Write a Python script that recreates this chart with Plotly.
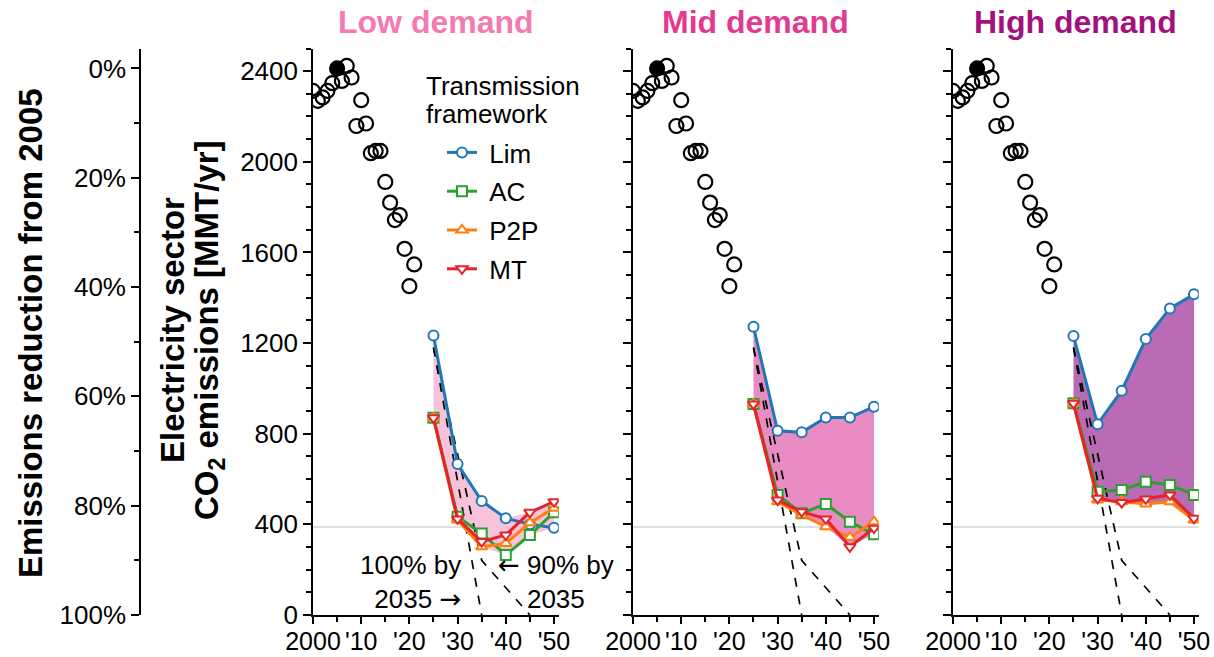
import plotly.graph_objects as go

# ---------------- data ----------------
hist_years = list(range(2000, 2022))
hist_co2 = [2313, 2269, 2284, 2313, 2347, 2412, 2357, 2423, 2372, 2158, 2272,
            2169, 2038, 2048, 2048, 1911, 1820, 1743, 1765, 1616, 1451, 1547]
base_year = 2005

scen_years = [2025, 2030, 2035, 2040, 2045, 2050]

low_lim = [1233, 666, 503, 427, 400, 385]
low_ac = [870, 434, 360, 265, 353, 453]
low_p2p = [870, 419, 301, 316, 407, 471]
low_mt = [870, 424, 324, 353, 453, 500]

mid_lim = [1272, 813, 806, 872, 872, 919]
mid_ac = [931, 530, 449, 490, 412, 356]
mid_p2p = [931, 500, 441, 390, 343, 412]
mid_mt = [931, 507, 456, 424, 301, 383]

high_lim = [1231, 842, 990, 1218, 1353, 1415]
high_ac = [934, 544, 552, 588, 574, 530]
high_p2p = [934, 508, 500, 490, 500, 419]
high_mt = [934, 515, 496, 512, 530, 427]

# reference decarbonisation pathways
path100_years = [2025, 2035]
path100_co2 = [1180, 0]
path90_years = [2025, 2035, 2045]
path90_co2 = [1180, 241, 0]

target_co2 = 388

panel_names = ["Low demand", "Mid demand", "High demand"]
frameworks = ["Lim", "AC", "P2P", "MT"]
x_tickvals = [2000, 2010, 2020, 2030, 2040, 2050]
x_ticktext = ["2000", "'10", "'20", "'30", "'40", "'50"]
y_tickvals = [0, 400, 800, 1200, 1600, 2000, 2400]
pct_tickvals = [0, 20, 40, 60, 80, 100]
pct_ticktext = ["0%", "20%", "40%", "60%", "80%", "100%"]

# ---------------- styling ----------------
FONT = "Liberation Sans, Arial, sans-serif"
ARROW_FONT = "DejaVu Sans"
W, H = 1214, 657
TICK_SIZE = 26
LABEL_SIZE = 33
title_colors = ["#f47aaf", "#e23a8f", "#a3117d"]
fill_colors = ["#f7c3da", "#ea8cc4", "#b96bb5"]
fw_colors = {"Lim": "#1f77b4", "AC": "#2ca02c", "P2P": "#ff7f0e", "MT": "#e3242b"}
fw_symbols = {"Lim": "circle", "AC": "square", "P2P": "triangle-up", "MT": "triangle-down"}

panels = [
    {"Lim": low_lim, "AC": low_ac, "P2P": low_p2p, "MT": low_mt},
    {"Lim": mid_lim, "AC": mid_ac, "P2P": mid_p2p, "MT": mid_mt},
    {"Lim": high_lim, "AC": high_ac, "P2P": high_p2p, "MT": high_mt},
]

x_left_px = [313, 633, 953]
panel_w_px = 245.8
y_bottom_px, y_top_px = 615, 48.5
y_domain = [1 - y_bottom_px / H, 1 - y_top_px / H]
x_range = [2000, 2051]
y_range = [0, 2500]

fig = go.Figure()

for i, data in enumerate(panels):
    xa = "x" if i == 0 else f"x{i + 1}"
    ya = "y" if i == 0 else f"y{i + 1}"

    # envelope of the four transmission frameworks
    upper = [max(vals) for vals in zip(*data.values())]
    lower = [min(vals) for vals in zip(*data.values())]
    fig.add_trace(go.Scatter(
        x=scen_years + scen_years[::-1], y=upper + lower[::-1],
        fill="toself", fillcolor=fill_colors[i], mode="none",
        hoverinfo="skip", showlegend=False, xaxis=xa, yaxis=ya))

    # pathways
    for px_, py_ in [(path100_years, path100_co2), (path90_years, path90_co2)]:
        fig.add_trace(go.Scatter(
            x=px_, y=py_, mode="lines",
            line=dict(color="black", width=1.7, dash="dash"),
            hoverinfo="skip", showlegend=False, xaxis=xa, yaxis=ya))

    # historical emissions
    symbols = ["circle" if yr == base_year else "circle-open" for yr in hist_years]
    fig.add_trace(go.Scatter(
        x=hist_years, y=hist_co2, mode="markers",
        marker=dict(symbol=symbols, size=14, color="black",
                    line=dict(color="black", width=2.2)),
        showlegend=False, xaxis=xa, yaxis=ya))

    # scenario results
    for fw in frameworks:
        fig.add_trace(go.Scatter(
            x=scen_years, y=data[fw], mode="lines+markers", name="\u00a0" + fw,
            legendgroup=fw, showlegend=(i == 0),
            line=dict(color=fw_colors[fw], width=3),
            marker=dict(symbol=fw_symbols[fw], size=10, color="white",
                        line=dict(color=fw_colors[fw], width=2)),
            xaxis=xa, yaxis=ya))

    axis_common = dict(showline=True, linecolor="black", linewidth=1.6,
                       ticks="outside", tickcolor="black", tickwidth=1.6,
                       showgrid=False, zeroline=False, fixedrange=True,
                       automargin=False,
                       tickfont=dict(family=FONT, size=TICK_SIZE, color="black"))
    x0 = x_left_px[i] / W
    fig.update_layout({
        f"xaxis{'' if i == 0 else i + 1}": dict(
            axis_common, domain=[x0, x0 + panel_w_px / W], range=x_range,
            anchor=ya, tickmode="array", tickvals=x_tickvals, ticktext=x_ticktext,
            ticklen=7, ticklabelstandoff=-4,
            tickfont=dict(family=FONT, size=25, color="black"),
            minor=dict(tickmode="array", tickvals=[v + 5 for v in x_tickvals[:-1]],
                       ticks="outside", ticklen=5, tickwidth=1.6, tickcolor="black")),
        f"yaxis{'' if i == 0 else i + 1}": dict(
            axis_common, domain=y_domain, range=y_range, anchor=xa,
            tickmode="array", tickvals=y_tickvals, showticklabels=(i == 0),
            ticklen=8,
            minor=dict(tickmode="array",
                       tickvals=[v for v in range(100, 2600, 100) if v % 400],
                       ticks="outside", ticklen=5, tickwidth=1.6, tickcolor="black")),
    })

    fig.add_shape(type="line", xref=f"{xa} domain", yref=ya, x0=0, x1=1,
                  y0=target_co2, y1=target_co2, layer="below",
                  line=dict(color="#d6d6d6", width=1.5))

    fig.add_annotation(
        text=f"<b>{panel_names[i]}</b>", xref="paper", yref="paper",
        x=(x_left_px[i] + panel_w_px / 2) / W, y=1 - 22 / H,
        xanchor="center", yanchor="middle", showarrow=False,
        font=dict(family=FONT, size=32, color=title_colors[i]))

# percent-reduction axis tied to the 2005 level
e_base = hist_co2[hist_years.index(base_year)]
pct_range = [100 * (1 - y_range[0] / e_base), 100 * (1 - y_range[1] / e_base)]
fig.add_trace(go.Scatter(x=[None], y=[None], xaxis="x", yaxis="y4",
                         showlegend=False, hoverinfo="skip"))
fig.update_layout(yaxis4=dict(
    overlaying="y", anchor="free", position=140 / W, side="left",
    range=pct_range, showline=True, linecolor="black", linewidth=1.6,
    ticks="outside", ticklen=8, tickwidth=1.6, tickcolor="black",
    tickmode="array", tickvals=pct_tickvals, ticktext=pct_ticktext,
    showgrid=False, zeroline=False, fixedrange=True, automargin=False,
    tickfont=dict(family=FONT, size=TICK_SIZE, color="black"),
    minor=dict(tickmode="array", tickvals=[10, 30, 50, 70, 90], ticks="outside",
               ticklen=5, tickwidth=1.6, tickcolor="black")))

# axis titles
fig.add_annotation(text="<b>Emissions reduction from 2005</b>", xref="paper", yref="paper",
                   x=30 / W, y=1 - 333 / H, textangle=-90, showarrow=False,
                   xanchor="center", yanchor="middle",
                   font=dict(family=FONT, size=33, color="black"))
fig.add_annotation(text="<b>Electricity sector</b>", xref="paper", yref="paper",
                   x=172 / W, y=1 - 330 / H, textangle=-90, showarrow=False,
                   xanchor="center", yanchor="middle",
                   font=dict(family=FONT, size=LABEL_SIZE, color="black"))
fig.add_annotation(text="<b>CO<sub>2</sub> emissions [MMT/yr]</b>", xref="paper", yref="paper",
                   x=209 / W, y=1 - 330 / H, textangle=-90, showarrow=False,
                   xanchor="center", yanchor="middle",
                   font=dict(family=FONT, size=LABEL_SIZE, color="black"))

# legend heading
for txt, ypx in [("Transmission", 86), ("framework", 114)]:
    fig.add_annotation(text=txt, xref="paper", yref="paper", x=424 / W, y=1 - ypx / H,
                       xanchor="left", yanchor="middle", showarrow=False,
                       font=dict(family=FONT, size=TICK_SIZE, color="black"))

# pathway labels
arrow_r = f"<span style='font-family:{ARROW_FONT}'>\u2192</span>"
arrow_l = f"<span style='font-family:{ARROW_FONT}'>\u2190</span>"
fig.add_annotation(text=f"100% by<br>2035 {arrow_r}", xref="x", yref="y",
                   x=2031.2, y=145, xanchor="right", yanchor="middle", align="right",
                   showarrow=False, font=dict(family=FONT, size=TICK_SIZE, color="black"))
fig.add_annotation(text=f"{arrow_l} 90% by<br>2035", xref="x", yref="y",
                   x=2050.5, y=145, xanchor="center", yanchor="middle", align="center",
                   showarrow=False, font=dict(family=FONT, size=TICK_SIZE, color="black"))

fig.update_layout(
    width=W, height=H, margin=dict(l=0, r=0, t=0, b=0, autoexpand=False),
    paper_bgcolor="white", plot_bgcolor="white",
    font=dict(family=FONT, color="black"),
    legend=dict(x=442 / W, y=1 - 129 / H, xanchor="left", yanchor="top",
                bgcolor="rgba(0,0,0,0)", tracegroupgap=2, itemwidth=30,
                font=dict(family=FONT, size=TICK_SIZE, color="black")),
)

fig.write_html("out.html")
